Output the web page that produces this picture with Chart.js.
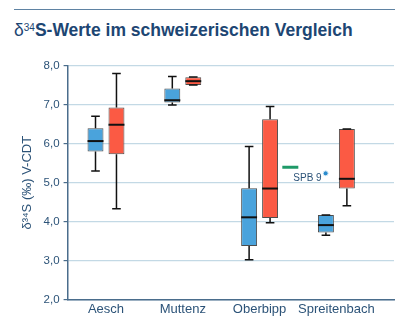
<!DOCTYPE html>
<html>
<head>
<meta charset="utf-8">
<script src="https://cdn.jsdelivr.net/npm/chart.js@4"></script>
<style>
  body { margin: 0; background: #fff; font-family: "Liberation Sans", Arial, sans-serif; }
  #wrap { position: relative; width: 416px; height: 327px; }
  #rule { position: absolute; left: 14px; top: 9px; width: 381px; border-top: 1.5px solid #5f83a3; }
  #title { position: absolute; left: 14px; top: 19px; line-height: 17px; font-size: 17.5px; color: #1d4673; white-space: nowrap; }
  #title b { font-weight: bold; }
  #title sup { font-size: 10px; vertical-align: 5px; }
  #c { position: absolute; left: 0; top: 0; }
</style>
</head>
<body>
<div id="wrap">
  <div id="rule"></div>
  <div id="title">δ<sup>34</sup><b>S-Werte im schweizerischen Vergleich</b></div>
  <canvas id="c" width="416" height="327"></canvas>
</div>
<script>
// Standorte
const sites = ['Aesch', 'Muttenz', 'Oberbipp', 'Spreitenbach'];

// Boxplot-Kennwerte, blaue Serie
const blueMin = [5.30, 7.00, 3.02, 3.65];
const blueQ1  = [5.80, 7.06, 3.37, 3.72];
const blueMed = [6.07, 7.12, 4.11, 3.91];
const blueQ3  = [6.40, 7.42, 4.86, 4.17];
const blueMax = [6.71, 7.73, 5.93, 4.17];

// Boxplot-Kennwerte, rote Serie
const redMin = [4.33, 7.51, 3.97, 4.41];
const redQ1  = [5.73, 7.51, 4.09, 4.85];
const redMed = [6.49, 7.61, 4.85, 5.10];
const redQ3  = [6.93, 7.71, 6.63, 6.38];
const redMax = [7.81, 7.72, 6.96, 6.38];

// Einzelwert Oberbipp (grün) und Probe SPB 9
const greenX = [2.9];
const greenY = [5.40];
const spbX = [3.36];
const spbY = [5.24];
const spbLabel = 'SPB 9';

const yTicks = [2, 3, 4, 5, 6, 7, 8];

const navy = '#2c5378';

function boxData(q1, q3) {
    return sites.map((s, i) => ({ x: i + 0.5, y: [q1[i], q3[i]] }));
}

// Whisker, Kappen und Median über die Balken zeichnen
const whiskerPlugin = {
    id: 'whiskers',
    afterDatasetsDraw(chart) {
        const ctx = chart.ctx;
        const y = chart.scales.y;
        chart.data.datasets.forEach((ds, di) => {
            if (!ds.stats) return;
            const meta = chart.getDatasetMeta(di);
            meta.data.forEach((bar, i) => {
                const st = ds.stats;
                const x = bar.x;
                const half = bar.width / 2;
                const cap = bar.width * 0.27;
                const yMin = y.getPixelForValue(st.min[i]);
                const yMax = y.getPixelForValue(st.max[i]);
                const yQ1 = y.getPixelForValue(st.q1[i]);
                const yQ3 = y.getPixelForValue(st.q3[i]);
                const yMed = y.getPixelForValue(st.med[i]);
                ctx.save();
                ctx.strokeStyle = '#111';
                ctx.lineWidth = 1.5;
                ctx.beginPath();
                ctx.moveTo(x, yQ1); ctx.lineTo(x, yMin);
                ctx.moveTo(x, yQ3); ctx.lineTo(x, yMax);
                ctx.moveTo(x - cap, yMin); ctx.lineTo(x + cap, yMin);
                ctx.moveTo(x - cap, yMax); ctx.lineTo(x + cap, yMax);
                ctx.stroke();
                ctx.lineWidth = 2;
                ctx.beginPath();
                ctx.moveTo(x - half, yMed); ctx.lineTo(x + half, yMed);
                ctx.stroke();
                ctx.restore();
            });
        });
        // Beschriftung der Probe
        const pMeta = chart.getDatasetMeta(3);
        const pt = pMeta.data[0];
        ctx.save();
        ctx.font = '10px "Liberation Sans", Arial, sans-serif';
        ctx.fillStyle = navy;
        ctx.textAlign = 'right';
        ctx.textBaseline = 'middle';
        ctx.fillText(spbLabel, pt.x - 4, pt.y + 5);
        ctx.restore();
    }
};

new Chart(document.getElementById('c'), {
    type: 'bar',
    data: {
        datasets: [
            {
                label: 'blau',
                data: boxData(blueQ1, blueQ3),
                stats: { min: blueMin, q1: blueQ1, med: blueMed, q3: blueQ3, max: blueMax },
                backgroundColor: '#4aa3dc',
                borderColor: '#4d4d4d',
                borderWidth: 1,
                borderSkipped: false,
                categoryPercentage: 0.546,
                barPercentage: 0.76
            },
            {
                label: 'rot',
                data: boxData(redQ1, redQ3),
                stats: { min: redMin, q1: redQ1, med: redMed, q3: redQ3, max: redMax },
                backgroundColor: '#fb5a44',
                borderColor: '#4d4d4d',
                borderWidth: 1,
                borderSkipped: false,
                categoryPercentage: 0.546,
                barPercentage: 0.76
            },
            {
                type: 'line',
                label: 'grün',
                data: greenX.map((x, i) => ({ x: x, y: greenY[i] })),
                showLine: false,
                pointStyle: 'line',
                pointRadius: 8,
                pointBorderWidth: 3,
                borderColor: '#1f9a68'
            },
            {
                type: 'line',
                label: spbLabel,
                data: spbX.map((x, i) => ({ x: x, y: spbY[i] })),
                showLine: false,
                pointRadius: 2.5,
                pointBorderWidth: 1,
                backgroundColor: '#2a8cce',
                borderColor: '#d8ebf7'
            }
        ]
    },
    options: {
        responsive: false,
        animation: false,
        events: [],
        layout: { padding: { top: 66, right: 22, left: 20, bottom: 8 } },
        plugins: {
            legend: { display: false },
            tooltip: { enabled: false }
        },
        scales: {
            x: {
                type: 'linear',
                offset: false,
                min: 0,
                max: 4.25,
                afterBuildTicks: axis => { axis.ticks = sites.map((s, i) => ({ value: i + 0.5 })); },
                ticks: {
                    autoSkip: false,
                    maxRotation: 0,
                    color: navy,
                    font: { family: '"Liberation Sans", Arial, sans-serif', size: 13 },
                    padding: 2,
                    callback: v => sites[Math.round(v - 0.5)]
                },
                grid: { display: false, drawTicks: false, offset: false },
                border: { color: '#4a6d8c', width: 1.5 }
            },
            y: {
                min: 2,
                max: 8,
                afterBuildTicks: axis => { axis.ticks = yTicks.map(v => ({ value: v })); },
                ticks: {
                    color: navy,
                    font: { family: '"Liberation Sans", Arial, sans-serif', size: 11.5 },
                    padding: 4,
                    callback: v => v.toFixed(1).replace('.', ',')
                },
                grid: { color: '#c3d9e5', lineWidth: 1.2, tickLength: 4, tickColor: '#4a6d8c' },
                border: { color: '#4a6d8c', width: 1.5 },
                title: {
                    display: true,
                    text: 'δ³⁴S (‰) V-CDT',
                    color: navy,
                    font: { family: '"Liberation Sans", Arial, sans-serif', size: 13 },
                    padding: { top: 0, bottom: 4 }
                }
            }
        }
    },
    plugins: [whiskerPlugin]
});
</script>
</body>
</html>
